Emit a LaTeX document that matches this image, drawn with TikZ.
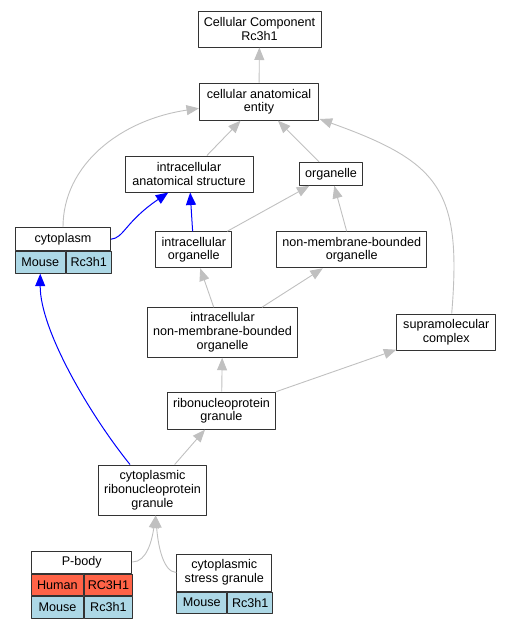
\documentclass[tikz,border=0pt]{standalone}
\usepackage{fontspec}
\setmainfont{Liberation Sans}
\usetikzlibrary{arrows.meta}
\definecolor{edgegray}{RGB}{192,192,192}
\definecolor{mouseblue}{RGB}{173,216,230}
\definecolor{humanred}{RGB}{255,99,71}
\begin{document}
\begin{tikzpicture}[x=1pt, y=-1pt, >={Triangle[length=12.5pt,width=10pt]}, line join=round,
	font=\fontsize{12.6}{13.8}\selectfont,
	term/.style={draw=black!80, line width=1pt, fill=white, align=center, inner sep=0pt},
	cell/.style={term, minimum height=21.5pt, anchor=north west},
	isa/.style={->, draw=edgegray, line width=0.9pt},
	isablue/.style={->, draw=blue, line width=1pt}]
	\useasboundingbox (0,0) rectangle (512,627);
	% GO terms
	\node[term, minimum width=123pt, minimum height=36pt] (cc) at (259.5,29) {Cellular Component\\Rc3h1};
	\node[term, minimum width=119pt, minimum height=37pt] (cae) at (259,101.7) {cellular anatomical\\entity};
	\node[term, minimum width=128pt, minimum height=36pt] (ias) at (189,174) {intracellular\\anatomical structure};
	\node[term, minimum width=63pt, minimum height=23pt] (org) at (331,173.8) {organelle};
	\node[term, minimum width=95pt, minimum height=23pt] (cyto) at (63,239.2) {cytoplasm};
	\node[term, minimum width=76pt, minimum height=36pt] (io) at (193.8,249.8) {intracellular\\organelle};
	\node[term, minimum width=150pt, minimum height=36pt] (nmbo) at (351.7,249.8) {non-membrane-bounded\\organelle};
	\node[term, minimum width=149.5pt, minimum height=49.5pt] (inmbo) at (222.5,332.5) {intracellular\\non-membrane-bounded\\organelle};
	\node[term, minimum width=99pt, minimum height=36.5pt] (sup) at (446.3,332.3) {supramolecular\\complex};
	\node[term, minimum width=108pt, minimum height=37pt] (rg) at (221.5,410.7) {ribonucleoprotein\\granule};
	\node[term, minimum width=108pt, minimum height=50pt] (crg) at (152.5,490) {cytoplasmic\\ribonucleoprotein\\granule};
	\node[term, minimum width=100pt, minimum height=22pt] (pb) at (81.8,562) {P-body};
	\node[term, minimum width=95pt, minimum height=37pt] (sg) at (224.3,572.5) {cytoplasmic\\stress granule};
	% gene rows
	\node[cell, fill=mouseblue, minimum width=49.5pt] (cytoMouse) at (cyto.south west) {Mouse};
	\node[cell, fill=mouseblue, minimum width=45.5pt] (cytoGene) at (cytoMouse.north east) {Rc3h1};
	\node[cell, fill=humanred, minimum width=51.3pt] (pbHuman) at (pb.south west) {Human};
	\node[cell, fill=humanred, minimum width=48.7pt] (pbHumanGene) at (pbHuman.north east) {RC3H1};
	\node[cell, fill=mouseblue, minimum width=51.3pt] (pbMouse) at (pbHuman.south west) {Mouse};
	\node[cell, fill=mouseblue, minimum width=48.7pt] (pbMouseGene) at (pbMouse.north east) {Rc3h1};
	\node[cell, fill=mouseblue, minimum width=50pt, minimum height=21pt] (sgMouse) at (sg.south west) {Mouse};
	\node[cell, fill=mouseblue, minimum width=45pt, minimum height=21pt] (sgGene) at (sgMouse.north east) {Rc3h1};
	% is_a edges
	\draw[isa] (cae) -- (cc);
	\draw[isa] (ias) -- (cae);
	\draw[isa] (org) -- (cae);
	\draw[isa] (cyto.north) .. controls (63,165) and (120,120) .. ([yshift=-6.6pt]cae.west);
	\draw[isa] ([xshift=5.4pt]sup.north) .. controls (462,190) and (440,162) .. ([xshift=0.6pt,yshift=1.7pt]cae.south east);
	\draw[isa] (io) -- (org);
	\draw[isa] (nmbo) -- (org);
	\draw[isa] (inmbo) -- (io);
	\draw[isa] (inmbo) -- (nmbo);
	\draw[isa] (rg) -- (inmbo);
	\draw[isa] (rg) -- (sup);
	\draw[isa] (crg) -- (rg);
	\draw[isa] (pb.east) .. controls (147,562) and (152,540) .. ([xshift=3.2pt]crg.south);
	\draw[isa] (sg.west) .. controls (163,572) and (158,545) .. ([xshift=3.2pt]crg.south);
	% path to the annotated term
	\draw[isablue] (io) -- (ias);
	\draw[isablue] (cyto.east) .. controls (124,238) and (125,222) .. ([xshift=-20.7pt]ias.south);
	\draw[isablue] ([xshift=-22.5pt]crg.north) .. controls (90,415) and (40,330) .. (cytoMouse.south);
\end{tikzpicture}
\end{document}
